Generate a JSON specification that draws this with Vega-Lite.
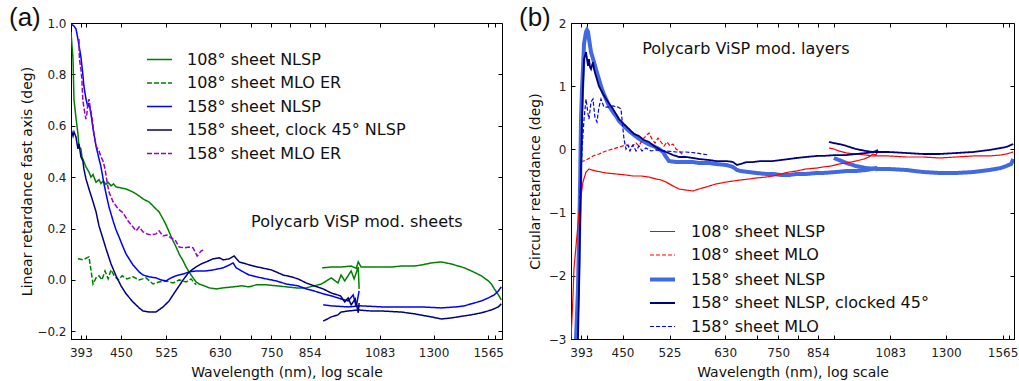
{
  "$schema": "https://vega.github.io/schema/vega-lite/v6.json",
  "background": "white",
  "padding": {"left": 8, "top": 4, "right": 0, "bottom": 0},
  "spacing": 14,
  "config": {
    "font": "DejaVu Sans",
    "view": {"stroke": "black", "strokeWidth": 1},
    "axis": {"domainColor": "black", "tickColor": "black", "tickSize": -4, "labelPadding": 9, "labelFontSize": 12, "labelColor": "#222", "titleFontSize": 14, "titleFontWeight": "normal", "titleColor": "#111", "grid": false, "labelFont": "DejaVu Sans", "titleFont": "DejaVu Sans"},
    "axisX": {"labelPadding": 12},
    "legend": {"labelFont": "DejaVu Sans", "labelFontSize": 16, "labelColor": "#111", "labelLimit": 400, "symbolType": "stroke", "symbolSize": 625, "labelOffset": 14, "rowPadding": 1.5},
    "title": {"fontSize": 26, "font": "Liberation Sans", "fontWeight": "normal", "anchor": "start", "frame": "group", "offset": -14, "color": "#111"}
  },
  "datasets": {
    "names": [
      {"s": "a1", "n": "108° sheet NLSP"},
      {"s": "a2", "n": "108° sheet MLO ER"},
      {"s": "a3", "n": "158° sheet NLSP"},
      {"s": "a4", "n": "158° sheet, clock 45° NLSP"},
      {"s": "a5", "n": "158° sheet MLO ER"},
      {"s": "b1", "n": "108° sheet NLSP"},
      {"s": "b2", "n": "108° sheet MLO"},
      {"s": "b3", "n": "158° sheet NLSP"},
      {"s": "b4", "n": "158° sheet NLSP, clocked 45°"},
      {"s": "b5", "n": "158° sheet MLO"}
    ],
    "ta": [{"w": 700, "v": 0.224, "t": "Polycarb ViSP mod. sheets"}],
    "tb": [{"w": 480, "v": 1.59, "t": "Polycarb ViSP mod. layers"}],
    "a": [
      {"s":"a1","g":0,"w":380,"v":0.965},{"s":"a1","g":0,"w":382.6,"v":0.86},{"s":"a1","g":0,"w":383.9,"v":0.70},{"s":"a1","g":0,"w":386.5,"v":0.63},{"s":"a1","g":0,"w":389,"v":0.57},{"s":"a1","g":0,"w":390.4,"v":0.52},{"s":"a1","g":0,"w":393,"v":0.51},{"s":"a1","g":0,"w":394.3,"v":0.48},{"s":"a1","g":0,"w":397,"v":0.46},{"s":"a1","g":0,"w":399.8,"v":0.44},{"s":"a1","g":0,"w":403.9,"v":0.42},{"s":"a1","g":0,"w":406.6,"v":0.40},{"s":"a1","g":0,"w":409.5,"v":0.41},{"s":"a1","g":0,"w":413.7,"v":0.38},{"s":"a1","g":0,"w":417.9,"v":0.39},{"s":"a1","g":0,"w":420.7,"v":0.375},{"s":"a1","g":0,"w":424,"v":0.385},{"s":"a1","g":0,"w":428,"v":0.372},{"s":"a1","g":0,"w":431,"v":0.38},{"s":"a1","g":0,"w":435.3,"v":0.366},{"s":"a1","g":0,"w":439,"v":0.374},{"s":"a1","g":0,"w":442.7,"v":0.362},{"s":"a1","g":0,"w":450.3,"v":0.358},{"s":"a1","g":0,"w":458,"v":0.354},{"s":"a1","g":0,"w":469,"v":0.342},{"s":"a1","g":0,"w":478.8,"v":0.327},{"s":"a1","g":0,"w":485.3,"v":0.315},{"s":"a1","g":0,"w":495.3,"v":0.303},{"s":"a1","g":0,"w":502,"v":0.288},{"s":"a1","g":0,"w":507,"v":0.276},{"s":"a1","g":0,"w":512.3,"v":0.265},{"s":"a1","g":0,"w":519.3,"v":0.237},{"s":"a1","g":0,"w":524.7,"v":0.214},{"s":"a1","g":0,"w":530,"v":0.187},{"s":"a1","g":0,"w":537.3,"v":0.152},{"s":"a1","g":0,"w":542.8,"v":0.128},{"s":"a1","g":0,"w":548.4,"v":0.101},{"s":"a1","g":0,"w":555.9,"v":0.074},{"s":"a1","g":0,"w":561.6,"v":0.05},{"s":"a1","g":0,"w":567.3,"v":0.031},{"s":"a1","g":0,"w":575,"v":0.008},{"s":"a1","g":0,"w":581,"v":-0.008},{"s":"a1","g":0,"w":587,"v":-0.016},{"s":"a1","g":0,"w":597,"v":-0.023},{"s":"a1","g":0,"w":607.4,"v":-0.031},{"s":"a1","g":0,"w":621.8,"v":-0.035},{"s":"a1","g":0,"w":636.7,"v":-0.031},{"s":"a1","g":0,"w":658.7,"v":-0.027},{"s":"a1","g":0,"w":677.4,"v":-0.023},{"s":"a1","g":0,"w":695.5,"v":-0.027},{"s":"a1","g":0,"w":712.9,"v":-0.019},{"s":"a1","g":0,"w":736.8,"v":-0.019},{"s":"a1","g":0,"w":762.8,"v":-0.023},{"s":"a1","g":0,"w":789,"v":-0.027},{"s":"a1","g":0,"w":816,"v":-0.031},{"s":"a1","g":0,"w":844,"v":-0.031},{"s":"a1","g":0,"w":867,"v":-0.023},{"s":"a1","g":0,"w":888,"v":-0.016},{"s":"a1","g":0,"w":904,"v":-0.004},{"s":"a1","g":0,"w":919,"v":0.008},{"s":"a1","g":0,"w":940,"v":-0.012},{"s":"a1","g":0,"w":950,"v":0.019},{"s":"a1","g":0,"w":962,"v":-0.004},{"s":"a1","g":0,"w":983,"v":0.035},{"s":"a1","g":0,"w":993,"v":0.004},{"s":"a1","g":0,"w":1007,"v":0.05},{"s":"a1","g":0,"w":1010,"v":-0.035},
      {"s":"a1","g":1,"w":891,"v":0.047},{"s":"a1","g":1,"w":919,"v":0.05},{"s":"a1","g":1,"w":950,"v":0.05},{"s":"a1","g":1,"w":983,"v":0.054},{"s":"a1","g":1,"w":1000,"v":0.045},{"s":"a1","g":1,"w":1007,"v":0.07},{"s":"a1","g":1,"w":1017,"v":0.05},{"s":"a1","g":1,"w":1052,"v":0.05},{"s":"a1","g":1,"w":1089,"v":0.05},{"s":"a1","g":1,"w":1126,"v":0.05},{"s":"a1","g":1,"w":1165,"v":0.054},{"s":"a1","g":1,"w":1218,"v":0.054},{"s":"a1","g":1,"w":1247,"v":0.058},{"s":"a1","g":1,"w":1290,"v":0.066},{"s":"a1","g":1,"w":1335,"v":0.07},{"s":"a1","g":1,"w":1381,"v":0.062},{"s":"a1","g":1,"w":1414,"v":0.054},{"s":"a1","g":1,"w":1443,"v":0.047},{"s":"a1","g":1,"w":1478,"v":0.035},{"s":"a1","g":1,"w":1529,"v":0.016},{"s":"a1","g":1,"w":1566,"v":-0.004},{"s":"a1","g":1,"w":1582,"v":-0.016},{"s":"a1","g":1,"w":1598,"v":-0.035},{"s":"a1","g":1,"w":1620,"v":-0.058},{"s":"a1","g":1,"w":1636,"v":-0.078},
      {"s":"a2","g":0,"w":389,"v":0.082},{"s":"a2","g":0,"w":395.6,"v":0.078},{"s":"a2","g":0,"w":401,"v":0.086},{"s":"a2","g":0,"w":403.9,"v":0.09},{"s":"a2","g":0,"w":409.5,"v":-0.016},{"s":"a2","g":0,"w":413.7,"v":0.008},{"s":"a2","g":0,"w":417.9,"v":0.016},{"s":"a2","g":0,"w":422,"v":0.0},{"s":"a2","g":0,"w":426.5,"v":0.035},{"s":"a2","g":0,"w":431,"v":0.004},{"s":"a2","g":0,"w":435.3,"v":0.039},{"s":"a2","g":0,"w":440,"v":0.016},{"s":"a2","g":0,"w":446,"v":0.0},{"s":"a2","g":0,"w":452,"v":0.016},{"s":"a2","g":0,"w":459.5,"v":0.004},{"s":"a2","g":0,"w":469,"v":0.012},{"s":"a2","g":0,"w":478.8,"v":0.0},{"s":"a2","g":0,"w":490,"v":0.008},{"s":"a2","g":0,"w":502,"v":-0.016},{"s":"a2","g":0,"w":512,"v":-0.008},{"s":"a2","g":0,"w":524.7,"v":-0.004},{"s":"a2","g":0,"w":537.3,"v":-0.012},{"s":"a2","g":0,"w":548.4,"v":0.0},{"s":"a2","g":0,"w":561.6,"v":-0.008},{"s":"a2","g":0,"w":571,"v":0.004},{"s":"a2","g":0,"w":581,"v":-0.019},
      {"s":"a3","g":0,"w":380,"v":0.996},{"s":"a3","g":0,"w":383.9,"v":0.988},{"s":"a3","g":0,"w":386.5,"v":0.977},{"s":"a3","g":0,"w":389,"v":0.938},{"s":"a3","g":0,"w":393,"v":0.868},{"s":"a3","g":0,"w":395.6,"v":0.80},{"s":"a3","g":0,"w":397,"v":0.755},{"s":"a3","g":0,"w":399.8,"v":0.704},{"s":"a3","g":0,"w":402.4,"v":0.673},{"s":"a3","g":0,"w":403.9,"v":0.689},{"s":"a3","g":0,"w":406.6,"v":0.646},{"s":"a3","g":0,"w":409.5,"v":0.588},{"s":"a3","g":0,"w":413.7,"v":0.521},{"s":"a3","g":0,"w":417.9,"v":0.471},{"s":"a3","g":0,"w":420.7,"v":0.44},{"s":"a3","g":0,"w":425,"v":0.374},{"s":"a3","g":0,"w":428,"v":0.335},{"s":"a3","g":0,"w":432.3,"v":0.284},{"s":"a3","g":0,"w":438.3,"v":0.23},{"s":"a3","g":0,"w":442.7,"v":0.195},{"s":"a3","g":0,"w":447.3,"v":0.167},{"s":"a3","g":0,"w":453.4,"v":0.128},{"s":"a3","g":0,"w":458,"v":0.101},{"s":"a3","g":0,"w":469,"v":0.058},{"s":"a3","g":0,"w":478.8,"v":0.031},{"s":"a3","g":0,"w":485.3,"v":0.019},{"s":"a3","g":0,"w":495.3,"v":0.012},{"s":"a3","g":0,"w":507,"v":0.008},{"s":"a3","g":0,"w":515.8,"v":0.0},{"s":"a3","g":0,"w":524.7,"v":-0.004},{"s":"a3","g":0,"w":533.7,"v":0.008},{"s":"a3","g":0,"w":542.8,"v":0.016},{"s":"a3","g":0,"w":555.9,"v":0.023},{"s":"a3","g":0,"w":567.3,"v":0.031},{"s":"a3","g":0,"w":581,"v":0.035},{"s":"a3","g":0,"w":601,"v":0.035},{"s":"a3","g":0,"w":615.4,"v":0.039},{"s":"a3","g":0,"w":636.7,"v":0.047},{"s":"a3","g":0,"w":650,"v":0.058},{"s":"a3","g":0,"w":658.7,"v":0.066},{"s":"a3","g":0,"w":665.5,"v":0.047},{"s":"a3","g":0,"w":677.4,"v":0.035},{"s":"a3","g":0,"w":695.5,"v":0.019},{"s":"a3","g":0,"w":712.9,"v":0.012},{"s":"a3","g":0,"w":736.8,"v":0.004},{"s":"a3","g":0,"w":762.8,"v":-0.004},{"s":"a3","g":0,"w":789,"v":-0.016},{"s":"a3","g":0,"w":821,"v":-0.023},{"s":"a3","g":0,"w":844,"v":-0.035},{"s":"a3","g":0,"w":867,"v":-0.043},{"s":"a3","g":0,"w":894,"v":-0.054},{"s":"a3","g":0,"w":919,"v":-0.062},{"s":"a3","g":0,"w":950,"v":-0.074},{"s":"a3","g":0,"w":973,"v":-0.082},{"s":"a3","g":0,"w":990,"v":-0.058},{"s":"a3","g":0,"w":1000,"v":-0.105},{"s":"a3","g":0,"w":1010,"v":-0.043},
      {"s":"a3","g":1,"w":894,"v":-0.097},{"s":"a3","g":1,"w":919,"v":-0.101},{"s":"a3","g":1,"w":973,"v":-0.105},{"s":"a3","g":1,"w":1017,"v":-0.101},{"s":"a3","g":1,"w":1089,"v":-0.105},{"s":"a3","g":1,"w":1165,"v":-0.105},{"s":"a3","g":1,"w":1247,"v":-0.105},{"s":"a3","g":1,"w":1335,"v":-0.109},{"s":"a3","g":1,"w":1405,"v":-0.105},{"s":"a3","g":1,"w":1443,"v":-0.101},{"s":"a3","g":1,"w":1478,"v":-0.093},{"s":"a3","g":1,"w":1529,"v":-0.082},{"s":"a3","g":1,"w":1566,"v":-0.07},{"s":"a3","g":1,"w":1598,"v":-0.058},{"s":"a3","g":1,"w":1620,"v":-0.043},{"s":"a3","g":1,"w":1636,"v":-0.027},
      {"s":"a4","g":0,"w":380,"v":0.588},{"s":"a4","g":0,"w":382.6,"v":0.56},{"s":"a4","g":0,"w":383.9,"v":0.576},{"s":"a4","g":0,"w":386.5,"v":0.556},{"s":"a4","g":0,"w":389,"v":0.51},{"s":"a4","g":0,"w":390.4,"v":0.53},{"s":"a4","g":0,"w":393,"v":0.479},{"s":"a4","g":0,"w":395.6,"v":0.463},{"s":"a4","g":0,"w":397,"v":0.432},{"s":"a4","g":0,"w":399.8,"v":0.393},{"s":"a4","g":0,"w":403.9,"v":0.354},{"s":"a4","g":0,"w":409.5,"v":0.304},{"s":"a4","g":0,"w":413.7,"v":0.265},{"s":"a4","g":0,"w":417.9,"v":0.21},{"s":"a4","g":0,"w":423.6,"v":0.16},{"s":"a4","g":0,"w":428,"v":0.121},{"s":"a4","g":0,"w":435.3,"v":0.062},{"s":"a4","g":0,"w":442.7,"v":0.016},{"s":"a4","g":0,"w":450.3,"v":-0.023},{"s":"a4","g":0,"w":458,"v":-0.054},{"s":"a4","g":0,"w":469,"v":-0.086},{"s":"a4","g":0,"w":478.8,"v":-0.109},{"s":"a4","g":0,"w":485.3,"v":-0.121},{"s":"a4","g":0,"w":495.3,"v":-0.125},{"s":"a4","g":0,"w":507,"v":-0.125},{"s":"a4","g":0,"w":519.3,"v":-0.105},{"s":"a4","g":0,"w":530,"v":-0.082},{"s":"a4","g":0,"w":537.3,"v":-0.058},{"s":"a4","g":0,"w":548.4,"v":-0.023},{"s":"a4","g":0,"w":555.9,"v":0.0},{"s":"a4","g":0,"w":567.3,"v":0.031},{"s":"a4","g":0,"w":581,"v":0.051},{"s":"a4","g":0,"w":591,"v":0.062},{"s":"a4","g":0,"w":601,"v":0.07},{"s":"a4","g":0,"w":615.4,"v":0.082},{"s":"a4","g":0,"w":628.5,"v":0.086},{"s":"a4","g":0,"w":636.7,"v":0.078},{"s":"a4","g":0,"w":650,"v":0.082},{"s":"a4","g":0,"w":661,"v":0.093},{"s":"a4","g":0,"w":672.3,"v":0.07},{"s":"a4","g":0,"w":689,"v":0.062},{"s":"a4","g":0,"w":705,"v":0.054},{"s":"a4","g":0,"w":725,"v":0.047},{"s":"a4","g":0,"w":750,"v":0.039},{"s":"a4","g":0,"w":780.6,"v":0.019},{"s":"a4","g":0,"w":802.5,"v":0.012},{"s":"a4","g":0,"w":821,"v":0.004},{"s":"a4","g":0,"w":844,"v":-0.012},{"s":"a4","g":0,"w":867,"v":-0.023},{"s":"a4","g":0,"w":894,"v":-0.035},{"s":"a4","g":0,"w":919,"v":-0.051},{"s":"a4","g":0,"w":948,"v":-0.062},{"s":"a4","g":0,"w":962,"v":-0.086},{"s":"a4","g":0,"w":973,"v":-0.07},{"s":"a4","g":0,"w":983,"v":-0.097},{"s":"a4","g":0,"w":997,"v":-0.074},{"s":"a4","g":0,"w":1007,"v":-0.128},{"s":"a4","g":0,"w":1010,"v":-0.09},
      {"s":"a4","g":1,"w":894,"v":-0.16},{"s":"a4","g":1,"w":907,"v":-0.152},{"s":"a4","g":1,"w":919,"v":-0.144},{"s":"a4","g":1,"w":940,"v":-0.136},{"s":"a4","g":1,"w":950,"v":-0.125},{"s":"a4","g":1,"w":973,"v":-0.121},{"s":"a4","g":1,"w":1007,"v":-0.117},{"s":"a4","g":1,"w":1052,"v":-0.121},{"s":"a4","g":1,"w":1089,"v":-0.121},{"s":"a4","g":1,"w":1165,"v":-0.125},{"s":"a4","g":1,"w":1218,"v":-0.132},{"s":"a4","g":1,"w":1290,"v":-0.144},{"s":"a4","g":1,"w":1335,"v":-0.152},{"s":"a4","g":1,"w":1381,"v":-0.148},{"s":"a4","g":1,"w":1443,"v":-0.14},{"s":"a4","g":1,"w":1478,"v":-0.136},{"s":"a4","g":1,"w":1529,"v":-0.128},{"s":"a4","g":1,"w":1582,"v":-0.117},{"s":"a4","g":1,"w":1620,"v":-0.105},{"s":"a4","g":1,"w":1636,"v":-0.093},
      {"s":"a5","g":0,"w":390.4,"v":0.938},{"s":"a5","g":0,"w":391,"v":0.86},{"s":"a5","g":0,"w":393,"v":0.82},{"s":"a5","g":0,"w":394.3,"v":0.78},{"s":"a5","g":0,"w":395.6,"v":0.697},{"s":"a5","g":0,"w":398.4,"v":0.646},{"s":"a5","g":0,"w":399.7,"v":0.626},{"s":"a5","g":0,"w":401,"v":0.646},{"s":"a5","g":0,"w":402.4,"v":0.685},{"s":"a5","g":0,"w":403.9,"v":0.704},{"s":"a5","g":0,"w":405,"v":0.68},{"s":"a5","g":0,"w":408,"v":0.634},{"s":"a5","g":0,"w":410.8,"v":0.568},{"s":"a5","g":0,"w":413.7,"v":0.521},{"s":"a5","g":0,"w":417.9,"v":0.502},{"s":"a5","g":0,"w":420.7,"v":0.479},{"s":"a5","g":0,"w":423.6,"v":0.463},{"s":"a5","g":0,"w":426.5,"v":0.432},{"s":"a5","g":0,"w":429.5,"v":0.381},{"s":"a5","g":0,"w":432.3,"v":0.342},{"s":"a5","g":0,"w":438.3,"v":0.304},{"s":"a5","g":0,"w":446,"v":0.276},{"s":"a5","g":0,"w":453.4,"v":0.261},{"s":"a5","g":0,"w":461,"v":0.23},{"s":"a5","g":0,"w":469,"v":0.206},{"s":"a5","g":0,"w":474,"v":0.191},{"s":"a5","g":0,"w":478.8,"v":0.206},{"s":"a5","g":0,"w":485.3,"v":0.187},{"s":"a5","g":0,"w":492,"v":0.179},{"s":"a5","g":0,"w":498.6,"v":0.175},{"s":"a5","g":0,"w":507,"v":0.179},{"s":"a5","g":0,"w":512.3,"v":0.191},{"s":"a5","g":0,"w":519.3,"v":0.171},{"s":"a5","g":0,"w":526,"v":0.175},{"s":"a5","g":0,"w":533.7,"v":0.163},{"s":"a5","g":0,"w":541,"v":0.156},{"s":"a5","g":0,"w":548.4,"v":0.128},{"s":"a5","g":0,"w":557.8,"v":0.125},{"s":"a5","g":0,"w":567.3,"v":0.128},{"s":"a5","g":0,"w":575,"v":0.125},{"s":"a5","g":0,"w":583,"v":0.093},{"s":"a5","g":0,"w":591,"v":0.113},{"s":"a5","g":0,"w":597,"v":0.117}
    ],
    "b": [
      {"s":"b3","g":0,"w":386.3,"v":-3.0},{"s":"b3","g":0,"w":388.8,"v":-2.21},{"s":"b3","g":0,"w":390.1,"v":-1.42},{"s":"b3","g":0,"w":391.4,"v":-0.63},{"s":"b3","g":0,"w":392.7,"v":0.48},{"s":"b3","g":0,"w":394,"v":0.96},{"s":"b3","g":0,"w":395.2,"v":1.27},{"s":"b3","g":0,"w":396.6,"v":1.67},{"s":"b3","g":0,"w":399.2,"v":1.86},{"s":"b3","g":0,"w":400.5,"v":1.89},{"s":"b3","g":0,"w":401.8,"v":1.86},{"s":"b3","g":0,"w":403.1,"v":1.75},{"s":"b3","g":0,"w":405.8,"v":1.54},{"s":"b3","g":0,"w":409.8,"v":1.38},{"s":"b3","g":0,"w":412.4,"v":1.27},{"s":"b3","g":0,"w":415.2,"v":1.16},{"s":"b3","g":0,"w":419.3,"v":1.0},{"s":"b3","g":0,"w":422,"v":0.91},{"s":"b3","g":0,"w":426.2,"v":0.80},{"s":"b3","g":0,"w":430.4,"v":0.69},{"s":"b3","g":0,"w":436.1,"v":0.59},{"s":"b3","g":0,"w":440.4,"v":0.53},{"s":"b3","g":0,"w":444.8,"v":0.45},{"s":"b3","g":0,"w":452.1,"v":0.37},{"s":"b3","g":0,"w":459.6,"v":0.29},{"s":"b3","g":0,"w":465.7,"v":0.24},{"s":"b3","g":0,"w":473.4,"v":0.18},{"s":"b3","g":0,"w":481.2,"v":0.13},{"s":"b3","g":0,"w":489.2,"v":0.085},{"s":"b3","g":0,"w":497.3,"v":0.054},{"s":"b3","g":0,"w":507.2,"v":0.006},{"s":"b3","g":0,"w":513.9,"v":-0.041},{"s":"b3","g":0,"w":519,"v":-0.12},{"s":"b3","g":0,"w":524.1,"v":-0.184},{"s":"b3","g":0,"w":536.3,"v":-0.2},{"s":"b3","g":0,"w":548.7,"v":-0.2},{"s":"b3","g":0,"w":566.9,"v":-0.2},{"s":"b3","g":0,"w":578.2,"v":-0.215},{"s":"b3","g":0,"w":597.5,"v":-0.215},{"s":"b3","g":0,"w":611.3,"v":-0.231},{"s":"b3","g":0,"w":633,"v":-0.247},{"s":"b3","g":0,"w":646.5,"v":-0.278},{"s":"b3","g":0,"w":655,"v":-0.326},{"s":"b3","g":0,"w":663,"v":-0.342},{"s":"b3","g":0,"w":681.4,"v":-0.358},{"s":"b3","g":0,"w":697.2,"v":-0.373},{"s":"b3","g":0,"w":720.5,"v":-0.389},{"s":"b3","g":0,"w":737.2,"v":-0.389},{"s":"b3","g":0,"w":757,"v":-0.405},{"s":"b3","g":0,"w":776.9,"v":-0.405},{"s":"b3","g":0,"w":796,"v":-0.389},{"s":"b3","g":0,"w":821.4,"v":-0.389},{"s":"b3","g":0,"w":851,"v":-0.373},{"s":"b3","g":0,"w":868.4,"v":-0.373},{"s":"b3","g":0,"w":906.3,"v":-0.358},{"s":"b3","g":0,"w":938,"v":-0.342},{"s":"b3","g":0,"w":967.6,"v":-0.342},{"s":"b3","g":0,"w":1000,"v":-0.326},{"s":"b3","g":0,"w":1020,"v":-0.31},{"s":"b3","g":0,"w":1033,"v":-0.295},{"s":"b3","g":0,"w":1040,"v":-0.326},
      {"s":"b3","g":1,"w":900,"v":-0.136},{"s":"b3","g":1,"w":915,"v":-0.168},{"s":"b3","g":1,"w":938,"v":-0.215},{"s":"b3","g":1,"w":967.6,"v":-0.263},{"s":"b3","g":1,"w":1000,"v":-0.295},{"s":"b3","g":1,"w":1040,"v":-0.31},{"s":"b3","g":1,"w":1078,"v":-0.31},{"s":"b3","g":1,"w":1141.6,"v":-0.326},{"s":"b3","g":1,"w":1207,"v":-0.358},{"s":"b3","g":1,"w":1272,"v":-0.373},{"s":"b3","g":1,"w":1345,"v":-0.373},{"s":"b3","g":1,"w":1422,"v":-0.358},{"s":"b3","g":1,"w":1499,"v":-0.326},{"s":"b3","g":1,"w":1556,"v":-0.295},{"s":"b3","g":1,"w":1584,"v":-0.263},{"s":"b3","g":1,"w":1610,"v":-0.231},{"s":"b3","g":1,"w":1621,"v":-0.152},
      {"s":"b1","g":0,"w":380,"v":-3.0},{"s":"b1","g":0,"w":381.2,"v":-2.68},{"s":"b1","g":0,"w":382.5,"v":-2.32},{"s":"b1","g":0,"w":383.7,"v":-1.89},{"s":"b1","g":0,"w":386.3,"v":-1.53},{"s":"b1","g":0,"w":388.8,"v":-1.18},{"s":"b1","g":0,"w":390.1,"v":-0.99},{"s":"b1","g":0,"w":392.7,"v":-0.737},{"s":"b1","g":0,"w":395.2,"v":-0.516},{"s":"b1","g":0,"w":399.2,"v":-0.358},{"s":"b1","g":0,"w":403.1,"v":-0.31},{"s":"b1","g":0,"w":407.1,"v":-0.326},{"s":"b1","g":0,"w":412.4,"v":-0.342},{"s":"b1","g":0,"w":419.3,"v":-0.358},{"s":"b1","g":0,"w":426.2,"v":-0.373},{"s":"b1","g":0,"w":440.4,"v":-0.389},{"s":"b1","g":0,"w":455.1,"v":-0.405},{"s":"b1","g":0,"w":465.7,"v":-0.421},{"s":"b1","g":0,"w":478,"v":-0.421},{"s":"b1","g":0,"w":490.7,"v":-0.437},{"s":"b1","g":0,"w":502.2,"v":-0.468},{"s":"b1","g":0,"w":510.7,"v":-0.484},{"s":"b1","g":0,"w":519,"v":-0.516},{"s":"b1","g":0,"w":531,"v":-0.579},{"s":"b1","g":0,"w":541.6,"v":-0.627},{"s":"b1","g":0,"w":554.1,"v":-0.643},{"s":"b1","g":0,"w":566.9,"v":-0.658},{"s":"b1","g":0,"w":578.2,"v":-0.627},{"s":"b1","g":0,"w":592,"v":-0.595},{"s":"b1","g":0,"w":611.3,"v":-0.547},{"s":"b1","g":0,"w":633,"v":-0.516},{"s":"b1","g":0,"w":646.5,"v":-0.5},{"s":"b1","g":0,"w":663,"v":-0.484},{"s":"b1","g":0,"w":681.4,"v":-0.468},{"s":"b1","g":0,"w":697.2,"v":-0.453},{"s":"b1","g":0,"w":720.5,"v":-0.437},{"s":"b1","g":0,"w":737.2,"v":-0.421},{"s":"b1","g":0,"w":757,"v":-0.389},{"s":"b1","g":0,"w":776.9,"v":-0.358},{"s":"b1","g":0,"w":796,"v":-0.342},{"s":"b1","g":0,"w":821.4,"v":-0.31},{"s":"b1","g":0,"w":851,"v":-0.295},{"s":"b1","g":0,"w":868.4,"v":-0.278},{"s":"b1","g":0,"w":892,"v":-0.263},{"s":"b1","g":0,"w":915.2,"v":-0.231},{"s":"b1","g":0,"w":938,"v":-0.215},{"s":"b1","g":0,"w":967.6,"v":-0.184},{"s":"b1","g":0,"w":994,"v":-0.152},{"s":"b1","g":0,"w":1009.6,"v":-0.12},{"s":"b1","g":0,"w":1023,"v":-0.073},{"s":"b1","g":0,"w":1033,"v":-0.089},{"s":"b1","g":0,"w":1040,"v":-0.025},
      {"s":"b1","g":1,"w":885.6,"v":0.022},{"s":"b1","g":1,"w":900,"v":0.006},{"s":"b1","g":1,"w":915,"v":-0.025},{"s":"b1","g":1,"w":938,"v":-0.057},{"s":"b1","g":1,"w":967.6,"v":-0.073},{"s":"b1","g":1,"w":1000,"v":-0.089},{"s":"b1","g":1,"w":1023,"v":-0.104},{"s":"b1","g":1,"w":1078,"v":-0.104},{"s":"b1","g":1,"w":1141.6,"v":-0.12},{"s":"b1","g":1,"w":1207,"v":-0.12},{"s":"b1","g":1,"w":1272,"v":-0.136},{"s":"b1","g":1,"w":1345,"v":-0.12},{"s":"b1","g":1,"w":1422,"v":-0.104},{"s":"b1","g":1,"w":1499,"v":-0.104},{"s":"b1","g":1,"w":1556,"v":-0.089},{"s":"b1","g":1,"w":1584,"v":-0.073},{"s":"b1","g":1,"w":1621,"v":-0.041},
      {"s":"b4","g":0,"w":388.8,"v":-3.0},{"s":"b4","g":0,"w":390.1,"v":-2.21},{"s":"b4","g":0,"w":391.4,"v":-1.26},{"s":"b4","g":0,"w":392.7,"v":-0.31},{"s":"b4","g":0,"w":394,"v":0.48},{"s":"b4","g":0,"w":395.2,"v":1.0},{"s":"b4","g":0,"w":396.6,"v":1.43},{"s":"b4","g":0,"w":399.2,"v":1.54},{"s":"b4","g":0,"w":400.5,"v":1.43},{"s":"b4","g":0,"w":401.8,"v":1.32},{"s":"b4","g":0,"w":403.1,"v":1.43},{"s":"b4","g":0,"w":404.5,"v":1.30},{"s":"b4","g":0,"w":405.8,"v":1.27},{"s":"b4","g":0,"w":408.4,"v":1.38},{"s":"b4","g":0,"w":409.8,"v":1.27},{"s":"b4","g":0,"w":412.4,"v":1.16},{"s":"b4","g":0,"w":416.5,"v":1.0},{"s":"b4","g":0,"w":422,"v":0.88},{"s":"b4","g":0,"w":426.2,"v":0.80},{"s":"b4","g":0,"w":436.1,"v":0.64},{"s":"b4","g":0,"w":444.8,"v":0.48},{"s":"b4","g":0,"w":452.1,"v":0.40},{"s":"b4","g":0,"w":459.6,"v":0.323},{"s":"b4","g":0,"w":467.2,"v":0.244},{"s":"b4","g":0,"w":474.9,"v":0.212},{"s":"b4","g":0,"w":482.8,"v":0.149},{"s":"b4","g":0,"w":490.7,"v":0.117},{"s":"b4","g":0,"w":498.9,"v":0.054},{"s":"b4","g":0,"w":507.2,"v":0.006},{"s":"b4","g":0,"w":513.9,"v":-0.025},{"s":"b4","g":0,"w":519,"v":-0.041},{"s":"b4","g":0,"w":531,"v":-0.089},{"s":"b4","g":0,"w":541.6,"v":-0.12},{"s":"b4","g":0,"w":554.1,"v":-0.12},{"s":"b4","g":0,"w":566.9,"v":-0.136},{"s":"b4","g":0,"w":578.2,"v":-0.152},{"s":"b4","g":0,"w":597.5,"v":-0.168},{"s":"b4","g":0,"w":611.3,"v":-0.184},{"s":"b4","g":0,"w":633,"v":-0.184},{"s":"b4","g":0,"w":646.5,"v":-0.2},{"s":"b4","g":0,"w":655,"v":-0.247},{"s":"b4","g":0,"w":663,"v":-0.231},{"s":"b4","g":0,"w":676,"v":-0.2},{"s":"b4","g":0,"w":690.4,"v":-0.2},{"s":"b4","g":0,"w":709,"v":-0.184},{"s":"b4","g":0,"w":737.2,"v":-0.184},{"s":"b4","g":0,"w":757,"v":-0.168},{"s":"b4","g":0,"w":776.9,"v":-0.152},{"s":"b4","g":0,"w":796,"v":-0.136},{"s":"b4","g":0,"w":821.4,"v":-0.12},{"s":"b4","g":0,"w":851,"v":-0.104},{"s":"b4","g":0,"w":868.4,"v":-0.104},{"s":"b4","g":0,"w":906.3,"v":-0.089},{"s":"b4","g":0,"w":938,"v":-0.089},{"s":"b4","g":0,"w":967.6,"v":-0.073},{"s":"b4","g":0,"w":1000,"v":-0.057},{"s":"b4","g":0,"w":1023,"v":-0.041},{"s":"b4","g":0,"w":1033,"v":-0.025},{"s":"b4","g":0,"w":1040,"v":-0.009},
      {"s":"b4","g":1,"w":885.6,"v":0.117},{"s":"b4","g":1,"w":900,"v":0.10},{"s":"b4","g":1,"w":915,"v":0.085},{"s":"b4","g":1,"w":938,"v":0.054},{"s":"b4","g":1,"w":967.6,"v":0.006},{"s":"b4","g":1,"w":1000,"v":-0.025},{"s":"b4","g":1,"w":1023,"v":-0.041},{"s":"b4","g":1,"w":1078,"v":-0.041},{"s":"b4","g":1,"w":1141.6,"v":-0.057},{"s":"b4","g":1,"w":1207,"v":-0.073},{"s":"b4","g":1,"w":1272,"v":-0.073},{"s":"b4","g":1,"w":1345,"v":-0.057},{"s":"b4","g":1,"w":1422,"v":-0.041},{"s":"b4","g":1,"w":1499,"v":-0.009},{"s":"b4","g":1,"w":1556,"v":0.022},{"s":"b4","g":1,"w":1584,"v":0.038},{"s":"b4","g":1,"w":1621,"v":0.085},
      {"s":"b2","g":0,"w":392.7,"v":-0.2},{"s":"b2","g":0,"w":399.2,"v":-0.168},{"s":"b2","g":0,"w":408.4,"v":-0.104},{"s":"b2","g":0,"w":416.5,"v":-0.073},{"s":"b2","g":0,"w":426.2,"v":-0.025},{"s":"b2","g":0,"w":436.1,"v":0.006},{"s":"b2","g":0,"w":444.8,"v":0.038},{"s":"b2","g":0,"w":455.1,"v":0.07},{"s":"b2","g":0,"w":462.6,"v":0.038},{"s":"b2","g":0,"w":470.3,"v":0.1},{"s":"b2","g":0,"w":474.9,"v":0.054},{"s":"b2","g":0,"w":481.2,"v":0.165},{"s":"b2","g":0,"w":485.9,"v":0.212},{"s":"b2","g":0,"w":490.7,"v":0.26},{"s":"b2","g":0,"w":495.6,"v":0.165},{"s":"b2","g":0,"w":500.6,"v":0.10},{"s":"b2","g":0,"w":505.5,"v":0.18},{"s":"b2","g":0,"w":510.5,"v":0.117},{"s":"b2","g":0,"w":515.6,"v":0.054},{"s":"b2","g":0,"w":520.7,"v":0.117},{"s":"b2","g":0,"w":525.8,"v":0.054},{"s":"b2","g":0,"w":531,"v":0.085},{"s":"b2","g":0,"w":536.3,"v":0.006},{"s":"b2","g":0,"w":543.4,"v":-0.041},{"s":"b2","g":0,"w":550.5,"v":-0.104},
      {"s":"b5","g":0,"w":391.4,"v":-0.785},{"s":"b5","g":0,"w":394,"v":0.006},{"s":"b5","g":0,"w":396.6,"v":0.48},{"s":"b5","g":0,"w":399.2,"v":0.797},{"s":"b5","g":0,"w":401.8,"v":0.56},{"s":"b5","g":0,"w":403.1,"v":0.48},{"s":"b5","g":0,"w":405.8,"v":0.75},{"s":"b5","g":0,"w":408.4,"v":0.797},{"s":"b5","g":0,"w":411,"v":0.51},{"s":"b5","g":0,"w":413.8,"v":0.434},{"s":"b5","g":0,"w":416.5,"v":0.67},{"s":"b5","g":0,"w":419.3,"v":0.797},{"s":"b5","g":0,"w":423.4,"v":0.67},{"s":"b5","g":0,"w":429,"v":0.67},{"s":"b5","g":0,"w":436.1,"v":0.687},{"s":"b5","g":0,"w":443.3,"v":0.67},{"s":"b5","g":0,"w":447.7,"v":0.639},{"s":"b5","g":0,"w":452.1,"v":0.165},{"s":"b5","g":0,"w":455.1,"v":0.006},{"s":"b5","g":0,"w":458.1,"v":0.07},{"s":"b5","g":0,"w":461.1,"v":-0.025},{"s":"b5","g":0,"w":465.7,"v":0.07},{"s":"b5","g":0,"w":470.3,"v":-0.025},{"s":"b5","g":0,"w":474.9,"v":0.054},{"s":"b5","g":0,"w":479.6,"v":-0.025},{"s":"b5","g":0,"w":485.9,"v":0.022},{"s":"b5","g":0,"w":494.1,"v":-0.025},{"s":"b5","g":0,"w":502.2,"v":-0.009},{"s":"b5","g":0,"w":519,"v":-0.025},{"s":"b5","g":0,"w":536.3,"v":-0.041},{"s":"b5","g":0,"w":554.1,"v":-0.041},{"s":"b5","g":0,"w":573,"v":-0.057},{"s":"b5","g":0,"w":585,"v":-0.073},{"s":"b5","g":0,"w":597.5,"v":-0.089}
    ]
  },
  "hconcat": [
    {
      "width": 431,
      "height": 316,
      "title": {"text": "(a)", "dx": -62},
      "layer": [
        {
          "data": {"name": "a"},
          "transform": [{"lookup": "s", "from": {"data": {"name": "names"}, "key": "s", "fields": ["n"]}}],
          "mark": {"type": "line", "clip": true, "strokeWidth": 1.5},
          "encoding": {
            "x": {"field": "w", "type": "quantitative", "scale": {"type": "log", "domain": [380, 1640], "nice": false}, "axis": {"values": [393, 400, 450, 525, 630, 700, 750, 800, 854, 900, 1083, 1300, 1565, 1600], "labelExpr": "indexof([393,450,525,630,750,854,1083,1300,1565], datum.value) >= 0 ? format(datum.value, 'd') : ''", "title": "Wavelength (nm), log scale", "titlePadding": 7}},
            "y": {"field": "v", "type": "quantitative", "scale": {"domain": [-0.23, 1.0], "nice": false, "zero": false}, "axis": {"values": [-0.2, 0, 0.2, 0.4, 0.6, 0.8, 1.0], "format": ".1f", "title": "Linear retardance fast axis (deg)", "titlePadding": 2}},
            "color": {"field": "n", "type": "nominal", "scale": {"domain": ["108° sheet NLSP", "108° sheet MLO ER", "158° sheet NLSP", "158° sheet, clock 45° NLSP", "158° sheet MLO ER"], "range": ["#008000", "#008000", "#0000ff", "#000080", "#9400d3"]}, "legend": {"orient": "none", "legendX": 75, "legendY": 23, "title": null}},
            "strokeDash": {"field": "n", "type": "nominal", "scale": {"domain": ["108° sheet NLSP", "108° sheet MLO ER", "158° sheet NLSP", "158° sheet, clock 45° NLSP", "158° sheet MLO ER"], "range": [[1, 0], [5, 2], [1, 0], [1, 0], [5, 2]]}, "legend": {"orient": "none", "legendX": 75, "legendY": 23, "title": null}},
            "detail": {"field": "g", "type": "nominal"}
          }
        },
        {
          "data": {"name": "ta"},
          "mark": {"type": "text", "align": "left", "baseline": "middle", "fontSize": 16, "color": "#111"},
          "encoding": {
            "x": {"field": "w", "type": "quantitative", "axis": {"orient": "top", "labels": false, "title": null, "domain": false, "minExtent": 0, "values": [393, 400, 450, 525, 630, 700, 750, 800, 854, 900, 1083, 1300, 1565, 1600]}},
            "y": {"field": "v", "type": "quantitative", "axis": {"orient": "right", "labels": false, "title": null, "domain": false, "minExtent": 0, "values": [-0.2, 0, 0.2, 0.4, 0.6, 0.8, 1.0]}},
            "text": {"field": "t"}
          }
        }
      ],
      "resolve": {"axis": {"x": "independent", "y": "independent"}}
    },
    {
      "width": 443,
      "height": 316,
      "title": {"text": "(b)", "dx": -52},
      "layer": [
        {
          "data": {"name": "b"},
          "transform": [{"lookup": "s", "from": {"data": {"name": "names"}, "key": "s", "fields": ["n"]}}],
          "mark": {"type": "line", "clip": true},
          "encoding": {
            "x": {"field": "w", "type": "quantitative", "scale": {"type": "log", "domain": [380, 1625], "nice": false}, "axis": {"values": [393, 400, 450, 525, 630, 700, 750, 800, 854, 900, 1083, 1300, 1565, 1600], "labelExpr": "indexof([393,450,525,630,750,854,1083,1300,1565], datum.value) >= 0 ? format(datum.value, 'd') : ''", "title": "Wavelength (nm), log scale", "titlePadding": 7}},
            "y": {"field": "v", "type": "quantitative", "scale": {"domain": [-3, 2], "nice": false, "zero": false}, "axis": {"values": [-3, -2, -1, 0, 1, 2], "format": "d", "title": "Circular retardance (deg)", "titlePadding": 6}},
            "color": {"field": "n", "type": "nominal", "scale": {"domain": ["108° sheet NLSP", "108° sheet MLO", "158° sheet NLSP", "158° sheet NLSP, clocked 45°", "158° sheet MLO"], "range": ["#ff0000", "#ff0000", "#4169e1", "#000080", "#0000ff"]}, "legend": {"orient": "none", "legendX": 77, "legendY": 195, "title": null, "encode": {"symbols": {"update": {"strokeWidth": {"signal": "datum.value === '158° sheet NLSP' ? 4.5 : datum.value === '158° sheet NLSP, clocked 45°' ? 2 : 1.5"}}}}}},
            "strokeDash": {"field": "n", "type": "nominal", "scale": {"domain": ["108° sheet NLSP", "108° sheet MLO", "158° sheet NLSP", "158° sheet NLSP, clocked 45°", "158° sheet MLO"], "range": [[1, 0], [4, 2], [1, 0], [1, 0], [4, 2]]}, "legend": {"orient": "none", "legendX": 77, "legendY": 195, "title": null}},
            "strokeWidth": {"field": "n", "type": "nominal", "scale": {"type": "ordinal", "domain": ["108° sheet NLSP", "108° sheet MLO", "158° sheet NLSP", "158° sheet NLSP, clocked 45°", "158° sheet MLO"], "range": [1.2, 1.2, 4, 1.8, 1.2]}, "legend": null},
            "detail": {"field": "g", "type": "nominal"}
          }
        },
        {
          "data": {"name": "tb"},
          "mark": {"type": "text", "align": "left", "baseline": "middle", "fontSize": 16, "color": "#111"},
          "encoding": {
            "x": {"field": "w", "type": "quantitative", "axis": {"orient": "top", "labels": false, "title": null, "domain": false, "minExtent": 0, "values": [393, 400, 450, 525, 630, 700, 750, 800, 854, 900, 1083, 1300, 1565, 1600]}},
            "y": {"field": "v", "type": "quantitative", "axis": {"orient": "right", "labels": false, "title": null, "domain": false, "minExtent": 0, "values": [-3, -2, -1, 0, 1, 2]}},
            "text": {"field": "t"}
          }
        }
      ],
      "resolve": {"axis": {"x": "independent", "y": "independent"}}
    }
  ],
  "resolve": {
    "scale": {"color": "independent", "strokeDash": "independent", "strokeWidth": "independent"},
    "legend": {"color": "independent", "strokeDash": "independent", "strokeWidth": "independent"}
  }
}
